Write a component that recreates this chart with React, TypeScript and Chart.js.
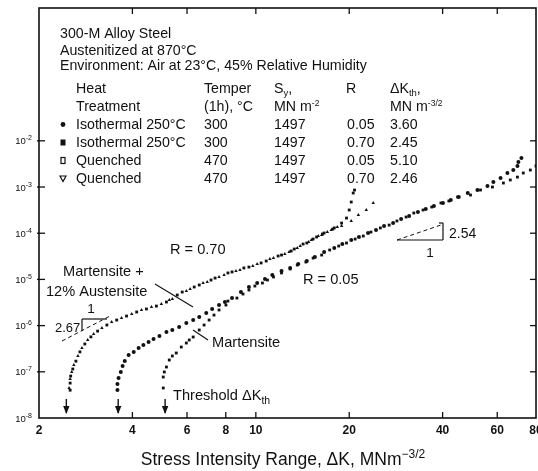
import React, { useEffect, useRef } from "react";
import { Chart, registerables } from "chart.js";

Chart.register(...registerables);

// ---------- data (ΔK in MN m^-3/2, da/dN in m/cycle) ----------
const isothermalR070DeltaK = [2.52, 2.52, 2.53, 2.57, 2.63, 2.71, 2.81, 2.94, 3.09, 3.31, 3.56, 3.83, 4.13, 4.44, 4.78, 5.15, 5.79, 6.57, 7.39, 8.38, 9.5, 10.8, 12.1, 13.3, 14.6, 15.7, 16.6, 17.9, 18.9, 19.6, 20.0, 20.3, 20.6, 20.8,
  5.58, 6.33, 7.17, 8.13, 9.15, 10.4, 11.8, 13.0, 14.2, 15.3, 16.4, 17.7];
const isothermalR070Rate = [4.0e-8, 5.7e-8, 8.1e-8, 1.15e-7, 1.7e-7, 2.7e-7, 4.0e-7, 5.7e-7, 7.6e-7, 1.03e-6, 1.32e-6, 1.61e-6, 1.97e-6, 2.29e-6, 2.65e-6, 3.24e-6, 5.33e-6, 7.57e-6, 1.07e-5, 1.45e-5, 1.85e-5, 2.5e-5, 3.37e-5, 4.55e-5, 6.14e-5, 8.28e-5, 1.01e-4, 1.3e-4, 1.66e-4, 2.13e-4, 3.18e-4, 4.73e-4, 7.41e-4, 8.6e-4,
  4.59e-6, 6.85e-6, 9.7e-6, 1.38e-5, 1.77e-5, 2.27e-5, 3.21e-5, 4.12e-5, 5.83e-5, 7.48e-5, 9.61e-5, 1.23e-4];

const quenchedR070DeltaK = [2.5, 2.52, 2.55, 2.59, 2.67, 2.75, 2.87, 3.0, 3.19, 3.43, 3.69, 3.98, 4.28, 4.61, 4.96, 5.38, 6.14, 6.97, 7.9, 8.89, 10.1, 11.4, 12.8, 13.9, 15.1, 16.3, 17.5, 18.9, 20.3, 21.4, 22.7, 23.9,
  5.26, 5.97, 6.76, 7.61, 8.63, 9.78, 11.1, 12.4, 13.6, 14.8, 15.9, 17.0, 18.3];
const quenchedR070Rate = [4.46e-8, 6.98e-8, 9.9e-8, 1.4e-7, 2.2e-7, 3.27e-7, 4.88e-7, 6.58e-7, 8.87e-7, 1.2e-6, 1.46e-6, 1.78e-6, 2.18e-6, 2.53e-6, 2.94e-6, 3.77e-6, 6.19e-6, 8.79e-6, 1.24e-5, 1.6e-5, 2.15e-5, 2.9e-5, 3.92e-5, 5.28e-5, 7.13e-5, 9.14e-5, 1.17e-4, 1.43e-4, 1.84e-4, 2.48e-4, 3.18e-4, 4.51e-4,
  3.58e-6, 5.61e-6, 8.36e-6, 1.13e-5, 1.52e-5, 1.95e-5, 2.77e-5, 3.55e-5, 4.79e-5, 6.46e-5, 8.69e-5, 1.06e-4, 1.36e-4];

const isothermalR005DeltaK = [3.58, 3.58, 3.61, 3.67, 3.72, 3.78, 3.89, 4.04, 4.19, 4.34, 4.68, 5.15, 5.66, 6.28, 6.92, 7.61, 8.38, 9.5, 10.7, 12.1, 13.7, 15.5, 17.9, 20.3, 23.0, 25.9, 29.4, 33.3, 37.5, 42.5, 48.2, 51.8, 55.8, 58.3, 61.5, 64.7, 67.6, 69.7, 70.2, 71.8,
  4.51, 4.89, 5.38, 5.97, 6.57, 7.23, 7.95, 8.95, 10.1, 11.3, 12.9, 14.6, 16.6, 19.0, 21.5, 24.4, 27.7, 31.2, 35.3, 40.1, 45.1];
const isothermalR005Rate = [4.04e-8, 5.45e-8, 7.35e-8, 9.91e-8, 1.34e-7, 1.71e-7, 2.31e-7, 2.69e-7, 3.27e-7, 3.8e-7, 5.13e-7, 7.26e-7, 9.33e-7, 1.32e-6, 1.88e-6, 2.79e-6, 3.95e-6, 6.85e-6, 1.02e-5, 1.52e-5, 2.15e-5, 3.05e-5, 4.79e-5, 7.13e-5, 1.01e-4, 1.43e-4, 2.03e-4, 2.88e-4, 3.88e-4, 5.24e-4, 7.41e-4, 8.61e-4, 1.05e-3, 1.28e-3, 1.57e-3, 2.01e-3, 2.33e-3, 2.85e-3, 3.48e-3, 4.25e-3,
  4.42e-7, 5.96e-7, 8.03e-7, 1.14e-6, 1.53e-6, 2.29e-6, 3.24e-6, 5.33e-6, 8.36e-6, 1.24e-5, 1.77e-5, 2.5e-5, 3.92e-5, 5.83e-5, 8.28e-5, 1.17e-4, 1.66e-4, 2.36e-4, 3.34e-4, 4.51e-4, 6.08e-4];

const quenchedR005DeltaK = [5.03, 5.03, 5.15, 5.26, 5.38, 5.54, 5.75, 5.97, 6.28, 6.57, 7.07, 7.61, 8.01, 8.69, 9.5, 10.5, 11.4, 12.9, 14.5, 16.3, 18.5, 20.9, 23.5, 26.9, 30.5, 34.6, 39.5, 44.7, 49.2, 53.0, 57.9, 62.8, 66.1, 69.7, 72.8, 76.7, 80.0,
  5.07, 6.1, 6.81, 7.33, 8.13, 9.09, 9.93, 10.9, 12.1, 13.6, 15.3, 17.3, 19.6, 22.2, 25.2, 28.5, 32.3, 36.9, 41.9];
const quenchedR005Rate = [4.46e-8, 7.71e-8, 1.27e-7, 1.8e-7, 2.2e-7, 2.55e-7, 3.44e-7, 4.2e-7, 5.66e-7, 8.03e-7, 1.32e-6, 2.18e-6, 2.79e-6, 3.95e-6, 5.9e-6, 8.36e-6, 1.13e-5, 1.68e-5, 2.38e-5, 3.37e-5, 5.28e-5, 7.48e-5, 1.06e-4, 1.5e-4, 2.24e-4, 3.18e-4, 4.51e-4, 6.08e-4, 6.71e-4, 8.61e-4, 1.0e-3, 1.22e-3, 1.42e-3, 1.64e-3, 2.01e-3, 2.33e-3, 2.85e-3,
  9.91e-8, 4.88e-7, 1.03e-6, 1.69e-6, 3.4e-6, 4.83e-6, 7.19e-6, 9.7e-6, 1.38e-5, 2.05e-5, 2.9e-5, 4.33e-5, 6.14e-5, 8.69e-5, 1.3e-4, 1.84e-4, 2.74e-4, 3.69e-4, 4.98e-4];

const xTickValues = [2, 4, 6, 8, 10, 20, 40, 60, 80];
const xTickLabels = ["2", "4", "6", "8", "10", "20", "40", "60", "80"];
const xTopTickValues = [4, 6, 10, 20, 40, 60];
const yTickExponents = [-2, -3, -4, -5, -6, -7, -8];

const heatTreatments = ["Isothermal 250°C", "Isothermal 250°C", "Quenched", "Quenched"];
const tempers = ["300", "300", "470", "470"];
const yieldStrengths = ["1497", "1497", "1497", "1497"];
const rRatios = ["0.05", "0.70", "0.05", "0.70"];
const thresholdLabels = ["3.60", "2.45", "5.10", "2.46"];
const thresholdArrows = [2.45, 3.6, 5.1];

const INK = "#111";
const FAMILY = '"Liberation Sans", Arial, Helvetica, sans-serif';

type Seg = { t: string; s?: number; dy?: number; w?: string };

function rich(ctx: CanvasRenderingContext2D, segs: Seg[], x: number, y: number, base: number, align: "left" | "center" | "right" = "left", weight = "") {
  const fontFor = (g: Seg) => `${g.w ?? weight} ${g.s ?? base}px ${FAMILY}`;
  let total = 0;
  segs.forEach((g) => {
    ctx.font = fontFor(g);
    total += ctx.measureText(g.t).width;
  });
  let cx = align === "left" ? x : align === "center" ? x - total / 2 : x - total;
  ctx.textAlign = "left";
  ctx.textBaseline = "alphabetic";
  segs.forEach((g) => {
    ctx.font = fontFor(g);
    ctx.fillText(g.t, cx, y + (g.dy ?? 0));
    cx += ctx.measureText(g.t).width;
  });
}

function line(ctx: CanvasRenderingContext2D, x1: number, y1: number, x2: number, y2: number, w = 1, dash: number[] = []) {
  ctx.save();
  ctx.lineWidth = w;
  ctx.setLineDash(dash);
  ctx.beginPath();
  ctx.moveTo(x1, y1);
  ctx.lineTo(x2, y2);
  ctx.stroke();
  ctx.restore();
}

const overlay = {
  id: "overlay",
  afterDraw(chart: any) {
    const ctx: CanvasRenderingContext2D = chart.ctx;
    const a = chart.chartArea;
    const xs = chart.scales.x;
    const ys = chart.scales.y;
    ctx.save();
    ctx.strokeStyle = INK;
    ctx.fillStyle = INK;

    // frame
    ctx.lineWidth = 1.6;
    ctx.strokeRect(a.left, a.top, a.right - a.left, a.bottom - a.top);

    // x ticks + labels
    xTickValues.forEach((v, i) => {
      const px = xs.getPixelForValue(v);
      if (px > a.left + 2 && px < a.right - 2) line(ctx, px, a.bottom, px, a.bottom - 6, 1.3);
      rich(ctx, [{ t: xTickLabels[i] }], px, a.bottom + 16, 12, "center", "bold");
    });
    xTopTickValues.forEach((v) => {
      const px = xs.getPixelForValue(v);
      line(ctx, px, a.top, px, a.top + 6, 1.3);
    });

    // y ticks + labels
    yTickExponents.forEach((e) => {
      const py = ys.getPixelForValue(Math.pow(10, e));
      if (py < a.bottom - 2) {
        line(ctx, a.left - 2, py, a.left + 6, py, 1.3);
        line(ctx, a.right, py, a.right - 6, py, 1.3);
      }
      rich(ctx, [{ t: "10" }, { t: String(e), s: 7, dy: -4 }], a.left - 7, py + 3.5, 9.5, "right");
    });

    // axis title
    rich(ctx, [{ t: "Stress Intensity Range, ΔK, MNm" }, { t: "−3/2", s: 12, dy: -7 }], 283, 465, 17.5, "center");

    // legend block
    const L = 14.2;
    rich(ctx, [{ t: "300-M Alloy Steel" }], 60, 38, L);
    rich(ctx, [{ t: "Austenitized at 870°C" }], 60, 55, L);
    rich(ctx, [{ t: "Environment: Air at 23°C, 45% Relative Humidity" }], 60, 70, L);
    const cHeat = 76, cTemp = 204, cSy = 274, cR = 346, cK = 390;
    rich(ctx, [{ t: "Heat" }], cHeat, 93, L);
    rich(ctx, [{ t: "Treatment" }], cHeat, 111, L);
    rich(ctx, [{ t: "Temper" }], cTemp, 93, L);
    rich(ctx, [{ t: "(1h), °C" }], cTemp, 111, L);
    rich(ctx, [{ t: "S" }, { t: "y", s: 9.5, dy: 3 }, { t: "," }], cSy, 93, L);
    rich(ctx, [{ t: "MN m" }, { t: "-2", s: 8.5, dy: -5 }], cSy, 111, L);
    rich(ctx, [{ t: "R" }], cR, 93, L);
    rich(ctx, [{ t: "ΔK" }, { t: "th", s: 9.5, dy: 3 }, { t: "," }], cK, 93, L);
    rich(ctx, [{ t: "MN m" }, { t: "-3/2", s: 8.5, dy: -5 }], cK, 111, L);
    const rowBase = [129, 147, 165, 183];
    rowBase.forEach((b, i) => {
      rich(ctx, [{ t: heatTreatments[i] }], cHeat, b, L);
      rich(ctx, [{ t: tempers[i] }], cTemp, b, L);
      rich(ctx, [{ t: yieldStrengths[i] }], cSy, b, L);
      rich(ctx, [{ t: rRatios[i] }], cR + 1, b, L);
      rich(ctx, [{ t: thresholdLabels[i] }], cK, b, L);
      const my = b - 4.5;
      ctx.lineWidth = 1.2;
      if (i === 0) {
        ctx.beginPath();
        ctx.arc(63, my, 2.4, 0, Math.PI * 2);
        ctx.fill();
      } else if (i === 1) {
        ctx.fillRect(60.5, my - 3, 5, 6);
      } else if (i === 2) {
        ctx.strokeRect(61, my - 3, 4, 6);
      } else {
        ctx.beginPath();
        ctx.moveTo(60, my - 2.5);
        ctx.lineTo(66, my - 2.5);
        ctx.lineTo(63, my + 3);
        ctx.closePath();
        ctx.stroke();
      }
    });

    // annotations
    const A = 14.6;
    rich(ctx, [{ t: "R = 0.70" }], 170, 254, A);
    rich(ctx, [{ t: "R = 0.05" }], 303, 284, A);
    rich(ctx, [{ t: "Martensite +" }], 63, 276, A);
    rich(ctx, [{ t: "12% Austensite" }], 46, 296, A);
    line(ctx, 155, 284, 193, 307, 1.1);
    rich(ctx, [{ t: "Martensite" }], 212, 347, A);
    line(ctx, 193, 330, 208, 340, 1.1);
    rich(ctx, [{ t: "Threshold ΔK" }, { t: "th", s: 10.5, dy: 4 }], 173, 400, A);

    // slope 2.67 triangle
    rich(ctx, [{ t: "1" }], 91, 313, 13.5, "center");
    rich(ctx, [{ t: "2.67" }], 55, 332, 13);
    line(ctx, 82, 319, 82, 331, 1.2);
    line(ctx, 82, 319, 107, 319, 1.2);
    line(ctx, 62, 341, 110, 316, 1, [4, 3]);

    // slope 2.54 triangle
    line(ctx, 397, 240, 443, 240, 1.2);
    line(ctx, 443, 240, 443, 223, 1.2);
    line(ctx, 439, 223, 443, 223, 1.2);
    line(ctx, 397, 240, 441, 225, 1, [4, 3]);
    rich(ctx, [{ t: "2.54" }], 449, 238, 14);
    rich(ctx, [{ t: "1" }], 430, 257, 13.5, "center");

    // threshold arrows
    thresholdArrows.forEach((k) => {
      const px = xs.getPixelForValue(k);
      line(ctx, px, 399, px, 413, 1.4);
      ctx.beginPath();
      ctx.moveTo(px - 3.2, 406);
      ctx.lineTo(px, 414);
      ctx.lineTo(px + 3.2, 406);
      ctx.closePath();
      ctx.fill();
    });

    ctx.restore();
  },
};

function pts(xs: number[], ys: number[]) {
  return xs.map((x, i) => ({ x, y: ys[i] }));
}

export default function App() {
  const ref = useRef<HTMLCanvasElement | null>(null);
  useEffect(() => {
    if (!ref.current) return;
    const base = { showLine: false, backgroundColor: INK, borderColor: INK, borderWidth: 0, pointRadius: 2, pointHoverRadius: 2 };
    const chart = new Chart(ref.current, {
      type: "scatter",
      data: {
        datasets: [
          { ...base, label: "Isothermal R=0.05", data: pts(isothermalR005DeltaK, isothermalR005Rate), pointStyle: "circle" },
          { ...base, label: "Isothermal R=0.70", data: pts(isothermalR070DeltaK, isothermalR070Rate), pointStyle: "rect" },
          { ...base, label: "Quenched R=0.05", data: pts(quenchedR005DeltaK, quenchedR005Rate), pointStyle: "rect" },
          { ...base, label: "Quenched R=0.70", data: pts(quenchedR070DeltaK, quenchedR070Rate), pointStyle: "triangle" },
        ],
      },
      options: {
        responsive: false,
        animation: false,
        events: [],
        layout: { padding: { left: 39, right: 1, top: 8, bottom: 53 } },
        plugins: { legend: { display: false }, tooltip: { enabled: false } },
        scales: {
          x: { type: "logarithmic", min: 2, max: 80, display: false, bounds: "data" },
          y: { type: "logarithmic", min: 1e-8, max: 7.5, display: false, bounds: "data" },
        },
      },
      plugins: [overlay],
    } as any);
    return () => chart.destroy();
  }, []);
  return (
    <div style={{ position: "fixed", left: 0, top: 0, width: 538, height: 471, background: "#fff", overflow: "hidden" }}>
      <canvas ref={ref} width={538} height={471} style={{ display: "block", width: 538, height: 471 }} />
    </div>
  );
}
